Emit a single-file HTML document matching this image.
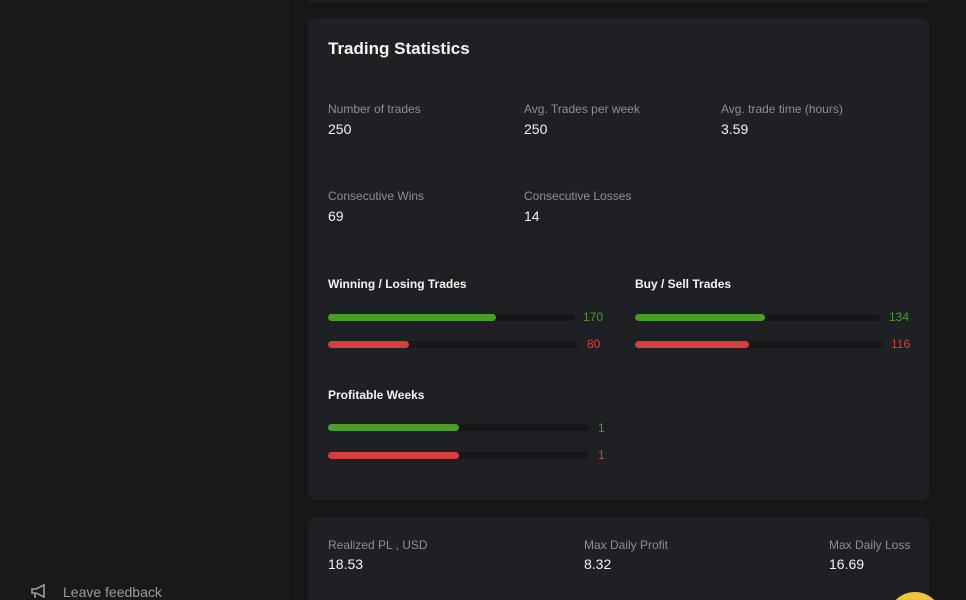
<!DOCTYPE html>
<html style="width:966px;height:600px;overflow:hidden;margin:0;"><head><style>
body{margin:0;width:966px;height:600px;background:#161719;position:relative;overflow:hidden;font-family:"Liberation Sans",sans-serif;}
.side{position:absolute;left:0;top:0;width:290px;height:600px;background:#18191b;}
.card{position:absolute;background:#1f2023;border-radius:8px;}
.t{position:absolute;white-space:nowrap;line-height:1.1;}
.lab{color:#8d8e92;font-size:12px;}
.val{color:#f2f2f2;font-size:14px;}
.h{color:#f4f4f4;font-size:12px;font-weight:bold;}
.track{position:absolute;height:7px;border-radius:4px;background:#151618;}
.fill{position:absolute;left:0;top:0;height:7px;border-radius:4px;}
.g{background:#4a9d25;}.r{background:#d63f3f;}
.ng{color:#4a9d25;font-size:12px;}.nr{color:#d63f3f;font-size:12px;}
</style></head><body>
<div class="side"></div>
<div class="card" style="left:308px;top:0;width:621px;height:2px;border-radius:0 0 8px 8px;"></div>
<div class="card" style="left:308px;top:18px;width:621px;height:482px;"></div>
<div class="card" style="left:308px;top:517px;width:621px;height:83px;border-radius:8px 8px 0 0;"></div>
<div class="t" style="left:328px;top:40px;color:#f6f6f6;font-size:17px;font-weight:bold;">Trading Statistics</div>
<div class="t lab" style="left:328px;top:103px;">Number of trades</div>
<div class="t val" style="left:328px;top:122px;">250</div>
<div class="t lab" style="left:524px;top:103px;">Avg. Trades per week</div>
<div class="t val" style="left:524px;top:122px;">250</div>
<div class="t lab" style="left:721px;top:103px;">Avg. trade time (hours)</div>
<div class="t val" style="left:721px;top:122px;">3.59</div>
<div class="t lab" style="left:328px;top:190px;">Consecutive Wins</div>
<div class="t val" style="left:328px;top:209px;">69</div>
<div class="t lab" style="left:524px;top:190px;">Consecutive Losses</div>
<div class="t val" style="left:524px;top:209px;">14</div>

<div class="t h" style="left:328px;top:278px;">Winning / Losing Trades</div>
<div class="track" style="left:328px;top:314px;width:247px;"><div class="fill g" style="width:168px"></div></div>
<div class="t ng" style="left:583px;top:311px;">170</div>
<div class="track" style="left:328px;top:341px;width:250px;"><div class="fill r" style="width:81px"></div></div>
<div class="t nr" style="left:587px;top:338px;">80</div>

<div class="t h" style="left:635px;top:278px;">Buy / Sell Trades</div>
<div class="track" style="left:635px;top:314px;width:246px;"><div class="fill g" style="width:130px"></div></div>
<div class="t ng" style="left:889px;top:311px;">134</div>
<div class="track" style="left:635px;top:341px;width:248px;"><div class="fill r" style="width:114px"></div></div>
<div class="t nr" style="left:891px;top:338px;">116</div>

<div class="t h" style="left:328px;top:389px;">Profitable Weeks</div>
<div class="track" style="left:328px;top:424px;width:261px;"><div class="fill g" style="width:131px"></div></div>
<div class="t ng" style="left:598px;top:422px;">1</div>
<div class="track" style="left:328px;top:452px;width:261px;"><div class="fill r" style="width:131px"></div></div>
<div class="t nr" style="left:598px;top:449px;">1</div>

<div class="t lab" style="left:328px;top:539px;">Realized PL , USD</div>
<div class="t val" style="left:328px;top:557px;">18.53</div>
<div class="t lab" style="left:584px;top:539px;">Max Daily Profit</div>
<div class="t val" style="left:584px;top:557px;">8.32</div>
<div class="t lab" style="left:829px;top:539px;">Max Daily Loss</div>
<div class="t val" style="left:829px;top:557px;">16.69</div>

<svg style="position:absolute;left:30px;top:584px" width="18" height="15" viewBox="0 0 18 15"><path d="M2 5h4l8-4v12l-8-4H2z M5 9v5" fill="none" stroke="#9a9b9e" stroke-width="1.6"/></svg>
<div class="t" style="left:63px;top:585px;color:#9a9b9e;font-size:14px;">Leave feedback</div>
<svg style="position:absolute;left:888px;top:592px" width="54" height="8"><circle cx="27" cy="27" r="27" fill="#f0c33c"/></svg>
</body></html>
